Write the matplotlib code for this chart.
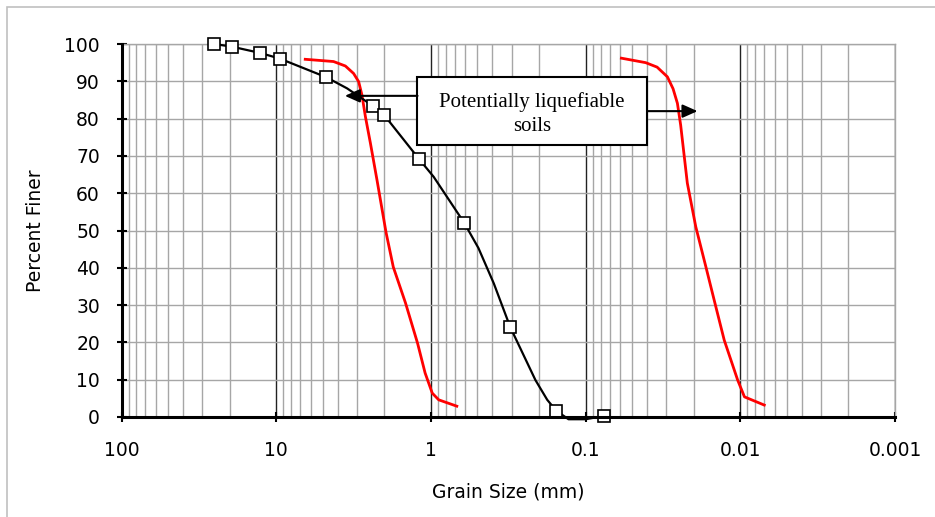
import numpy as np
import matplotlib
matplotlib.use("Agg")
import matplotlib.pyplot as plt
from matplotlib.patches import Rectangle

# -------------------------------------------------
# data (grain size in mm, percent finer)
# -------------------------------------------------
sample_size = [25.2, 19.4, 12.7, 9.5, 4.75, 2.37, 2.0, 1.19, 0.61, 0.307, 0.155, 0.076]
sample_pct = [100, 99.3, 97.6, 96.1, 91.1, 83.4, 80.9, 69.1, 52.1, 24.1, 1.7, 0.3]

# smoothed line through the samples
curve_size = [25.2, 19.4, 12.7, 9.5, 4.75, 3.48, 2.37, 2.0, 1.19, 0.96, 0.61, 0.493,
              0.392, 0.307, 0.211, 0.177, 0.155, 0.129, 0.1, 0.076]
curve_pct = [100, 99.3, 97.6, 96.1, 91.1, 88.1, 83.4, 80.9, 69.1, 64.4, 52.1, 45.3,
             35.8, 24.1, 9.9, 4.6, 1.7, -0.6, -0.6, 0.3]

# bounds of potentially liquefiable soils
coarse_size = [6.49, 4.26, 3.57, 3.16, 2.93, 2.79, 2.65, 2.46, 2.23, 1.95, 1.75, 1.46,
               1.22, 1.09, 0.98, 0.89, 0.68]
coarse_pct = [95.9, 95.3, 94.1, 92.1, 89.9, 86.3, 80.5, 73.4, 63.5, 49.5, 40.2, 30.6,
              19.8, 11.8, 6.4, 4.6, 2.9]

fine_size = [0.0587, 0.0409, 0.0345, 0.0296, 0.0272, 0.0255, 0.0243, 0.0220, 0.0194,
             0.0167, 0.0144, 0.0127, 0.0104, 0.0094, 0.0070]
fine_pct = [96.2, 95.0, 93.8, 91.2, 88.0, 84.1, 78.3, 62.7, 51.0, 40.3, 29.6, 20.6,
            9.9, 5.4, 3.2]

x_ticks = [100, 10, 1, 0.1, 0.01, 0.001]
x_labels = ["100", "10", "1", "0.1", "0.01", "0.001"]
y_ticks = list(range(0, 101, 10))

label_text = "Potentially liquefiable\nsoils"

# -------------------------------------------------
# figure
# -------------------------------------------------
fig = plt.figure(figsize=(9.35, 5.17), dpi=100)
ax = fig.add_axes([121.5 / 935, 1 - 417 / 517, 773.5 / 935, 373 / 517])

# outer light border
fig.patches.append(Rectangle((7 / 935, -0.05), 1.2, 1 - 7 / 517 + 0.05,
                             transform=fig.transFigure, fill=False,
                             edgecolor="#c0c0c0", lw=1.2))

ax.set_xscale("log")
ax.set_xlim(100, 0.001)
ax.set_ylim(0, 100)

# grid
ax.grid(which="minor", axis="x", color="#a6a6a6", lw=1.0)
ax.grid(which="major", axis="x", color="#222222", lw=1.0)
ax.grid(which="major", axis="y", color="#a6a6a6", lw=1.0)
ax.set_axisbelow(True)

ax.plot(coarse_size, coarse_pct, color="#ff0000", lw=2.0, zorder=3)
ax.plot(fine_size, fine_pct, color="#ff0000", lw=2.0, zorder=3)
ax.plot(curve_size, curve_pct, color="black", lw=1.6, zorder=4, clip_on=False)
ax.plot(sample_size, sample_pct, ls="none", marker="s", markersize=8,
        markerfacecolor="white", markeredgecolor="black", markeredgewidth=1.2,
        zorder=5, clip_on=False)

# annotation box + arrows
ax.text(0.531, 0.812, label_text, transform=ax.transAxes, ha="center", va="center",
        family="Liberation Serif", fontsize=15, linespacing=1.3, zorder=7)
ax.add_patch(Rectangle((0.382, 0.729), 0.298, 0.182, transform=ax.transAxes,
                       facecolor="white", edgecolor="black", lw=1.5, zorder=6))
ax.annotate("", xy=(3.6, 86.1), xytext=(1.22, 86.1),
            arrowprops=dict(arrowstyle="-|>,head_length=0.9,head_width=0.4",
                            color="black", lw=1.5, shrinkA=0, shrinkB=0), zorder=6)
ax.annotate("", xy=(0.0189, 82.0), xytext=(0.0395, 82.0),
            arrowprops=dict(arrowstyle="-|>,head_length=0.9,head_width=0.4",
                            color="black", lw=1.5, shrinkA=0, shrinkB=0), zorder=6)

# axes styling
ax.set_xticks(x_ticks)
ax.set_xticklabels(x_labels)
ax.set_yticks(y_ticks)
ax.tick_params(axis="x", which="minor", length=0)
ax.tick_params(axis="both", which="major", direction="inout", length=7, width=1.5,
               labelsize=13.5, colors="black")
ax.tick_params(axis="x", pad=14)
ax.tick_params(axis="y", pad=12)

for s in ["left", "bottom"]:
    ax.spines[s].set_linewidth(2.2)
    ax.spines[s].set_zorder(8)
ax.spines["top"].set_color("#a6a6a6")
ax.spines["top"].set_linewidth(1.0)
ax.spines["right"].set_color("#a6a6a6")
ax.spines["right"].set_linewidth(1.0)

ax.set_xlabel("Grain Size (mm)", fontsize=13.5, labelpad=16)
ax.set_ylabel("Percent Finer", fontsize=13.5, labelpad=14)

plt.savefig("out.png", dpi=100)
